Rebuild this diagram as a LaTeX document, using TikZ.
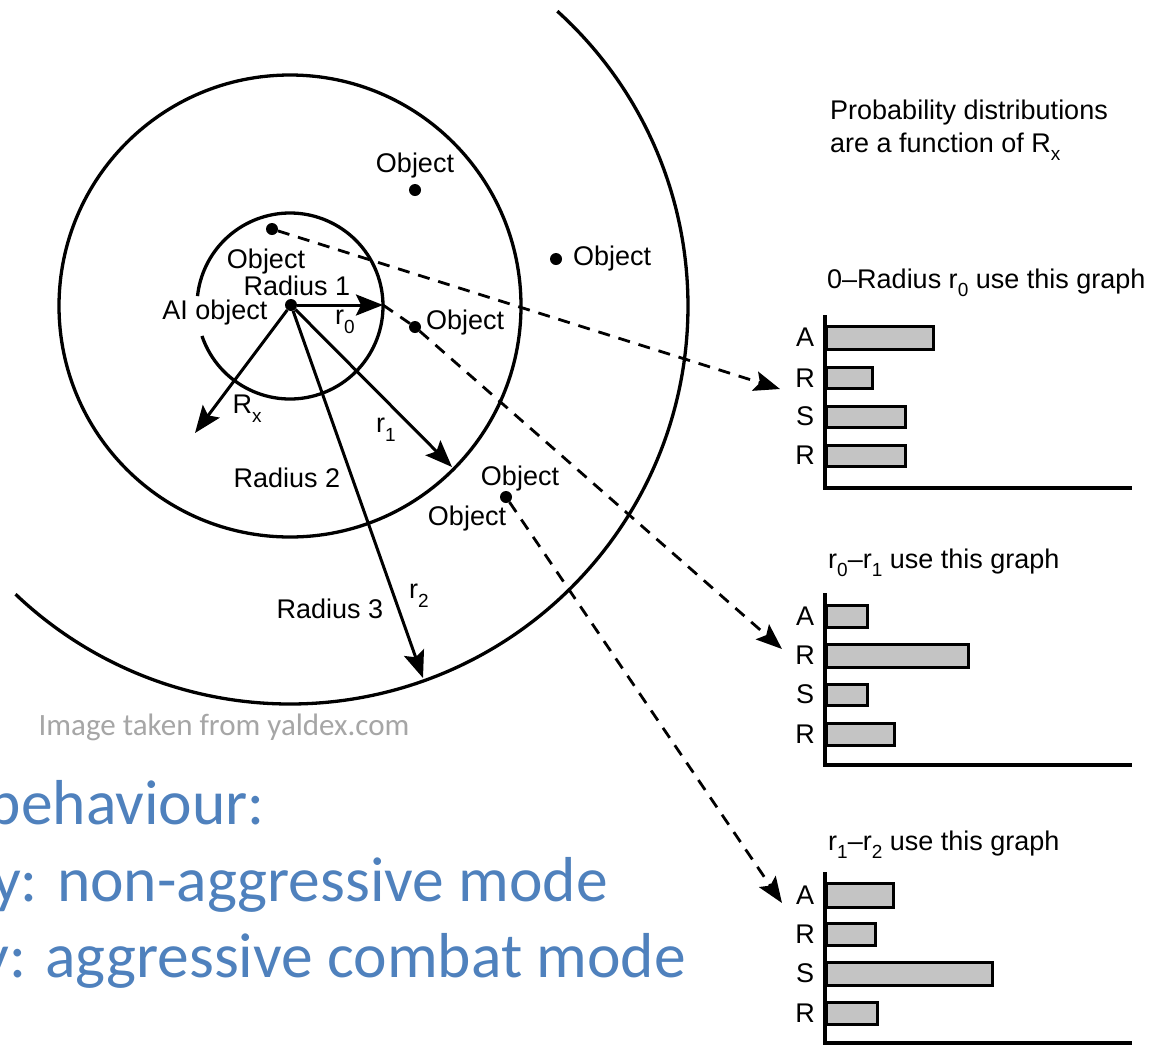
\documentclass[tikz,border=0pt]{standalone}
\usepackage{fontspec}
\setmainfont{Liberation Sans}
\newfontfamily\calibri{Carlito}
\usetikzlibrary{arrows.meta}
\newcommand\sbx[1]{\raisebox{-0.32em}{\fontsize{19}{19}\selectfont #1}}
\definecolor{slideblue}{HTML}{4F81BD}
\definecolor{credgrey}{HTML}{A6A6A6}
\definecolor{barfill}{HTML}{C4C4C4}
\begin{document}
\begin{tikzpicture}[x=1pt,y=1pt,
  lbl/.style={font=\fontsize{27}{31}\selectfont, inner sep=0pt},
  dot/.style={circle, fill=black, inner sep=0pt, minimum size=12pt},
  ring/.style={line width=3.3pt},
  rad/.style={line width=3pt, -{Stealth[length=27pt,width=21pt,inset=5pt]}},
  link/.style={line width=2.8pt, dash pattern=on 12pt off 9pt, -{Stealth[length=26pt,width=20pt,inset=5pt]}},
  bar/.style={line width=3pt, fill=barfill},
  axis/.style={line width=3.3pt},
  slide/.style={font=\calibri\fontsize{63.5}{70}\selectfont, text=slideblue, inner sep=0pt, anchor=base east},
]
\useasboundingbox (0,0) rectangle (1151,-1045);
\fill[white] (0,0) rectangle (1151,-1045);

% centre of the circles
\coordinate (C) at (290,-306);

% circles
\draw[ring] (C) ++(-161.2:93) arc[start angle=-161.2, end angle=173.9, radius=93];
\draw[ring] (C) circle[radius=231];
\draw[ring] (C) ++(47.8:398) arc[start angle=47.8, end angle=-133.6, radius=398];

% AI object and objects
\node[dot] (ai) at (291,-305) {};
\node[dot] (o1) at (415,-190) {};
\node[dot] (o2) at (272,-229) {};
\node[dot] (o3) at (415,-327) {};
\node[dot] (o4) at (556,-259) {};
\node[dot] (o5) at (506,-497) {};

% arrow end points
\coordinate (t0) at (383,-305);
\coordinate (tx) at (195,-433);
\coordinate (t1) at (452,-467);
\coordinate (t2) at (423,-678);
\coordinate (g1) at (780,-389);
\coordinate (g2) at (782,-649);
\coordinate (g3) at (782,-903);

% radius arrows
\draw[rad] (ai) -- (t0);
\draw[rad] (ai) -- (tx);
\draw[rad] (ai) -- (t1);
\draw[rad] (ai) -- (t2);

% dashed links
\draw[link] (o2) -- (g1);
\draw[link, -] (t0) -- (o3);
\draw[link] (o3) -- (g2);
\draw[link] (o5) -- (g3);

% labels in the circles
\node[lbl, anchor=base] (lo1) at (415,-172) {Object};
\node[lbl, anchor=base] (lo2) at (266,-268) {Object};
\node[lbl, anchor=base] (lr1) at (297,-295) {Radius 1};
\node[lbl, anchor=base] (lai) at (215,-319) {AI object};
\node[lbl] (lr0) at (345,-322) {r\sbx{0}};
\node[lbl, anchor=base west] (lo3) at (426,-329) {Object};
\node[lbl, anchor=base west] (lo4) at (573,-265) {Object};
\node[lbl] (lrx) at (247,-409) {R\sbx{x}};
\node[lbl] (lrr1) at (386,-430) {r\sbx{1}};
\node[lbl, anchor=base] (lr2) at (287,-487) {Radius 2};
\node[lbl] (lrr2) at (419,-596) {r\sbx{2}};
\node[lbl, anchor=base] (lr3) at (330,-618) {Radius 3};
\node[lbl, anchor=base] (lo5a) at (520,-485) {Object};
\node[lbl, anchor=base] (lo5b) at (467,-525) {Object};

% right-hand texts
\node[lbl, anchor=base west] (p1) at (830,-119) {Probability distributions};
\node[lbl, anchor=base west] (p2) at (830,-152) {are a function of R\sbx{x}};
\node[lbl, anchor=base west] (h1) at (827,-288) {0--Radius r\sbx{0} use this graph};
\node[lbl, anchor=base west] (h2) at (828,-568) {r\sbx{0}--r\sbx{1} use this graph};
\node[lbl, anchor=base west] (h3) at (828,-850) {r\sbx{1}--r\sbx{2} use this graph};

% graph 1
\draw[axis] (825,-315) -- (825,-488) -- (1132,-488);
\draw[bar] (826,-326) rectangle (933,-349);
\draw[bar] (826,-367) rectangle (872,-388);
\draw[bar] (826,-406) rectangle (905,-427);
\draw[bar] (826,-445) rectangle (905,-466);
\node[lbl] (a1) at (805,-337) {A};
\node[lbl] (b1) at (805,-378) {R};
\node[lbl] (c1) at (805,-416) {S};
\node[lbl] (d1) at (805,-455) {R};

% graph 2
\draw[axis] (825,-593) -- (825,-765) -- (1132,-765);
\draw[bar] (826,-605) rectangle (867,-627);
\draw[bar] (826,-644) rectangle (968,-667);
\draw[bar] (826,-684) rectangle (867,-705);
\draw[bar] (826,-723) rectangle (894,-745);
\node[lbl] (a2) at (805,-616) {A};
\node[lbl] (b2) at (805,-655) {R};
\node[lbl] (c2) at (805,-694) {S};
\node[lbl] (d2) at (805,-734) {R};

% graph 3
\draw[axis] (825,-872) -- (825,-1043) -- (1132,-1043);
\draw[bar] (826,-883) rectangle (893,-907);
\draw[bar] (826,-923) rectangle (875,-945);
\draw[bar] (826,-962) rectangle (992,-985);
\draw[bar] (826,-1002) rectangle (877,-1024);
\node[lbl] (a3) at (805,-895) {A};
\node[lbl] (b3) at (805,-934) {R};
\node[lbl] (c3) at (805,-973) {S};
\node[lbl] (d3) at (805,-1013) {R};

% credit and slide text
\node[font=\calibri\fontsize{31}{34}\selectfont, text=credgrey, inner sep=0pt, anchor=base] (cred) at (224,-735) {Image taken from yaldex.com};
\node[slide] (s1) at (265,-824) {behaviour:};
\node[slide] (s2) at (608,-901) {y: non-aggressive mode};
\node[slide] (s3) at (686,-977) {y: aggressive combat mode};
\end{tikzpicture}
\end{document}
